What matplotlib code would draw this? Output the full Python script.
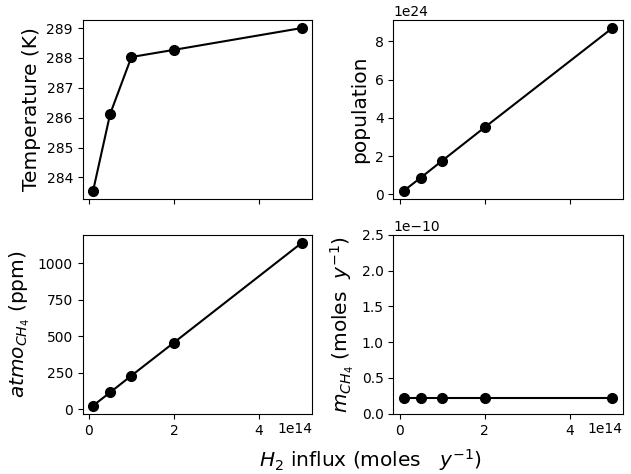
import matplotlib
matplotlib.use("Agg")
import matplotlib.pyplot as plt

h2_influx = [0.1e14, 0.5e14, 1.0e14, 2.0e14, 5.0e14]
temperature = [283.55, 286.12, 288.03, 288.27, 289.0]
population = [0.18e24, 0.87e24, 1.75e24, 3.5e24, 8.7e24]
atmo_ch4 = [23, 114, 229, 456, 1140]
m_ch4 = [0.22e-10, 0.22e-10, 0.22e-10, 0.22e-10, 0.22e-10]

fig, axes = plt.subplots(2, 2, figsize=(6.31, 4.74), dpi=100, sharex=True)
fig.subplots_adjust(left=0.131, right=0.987, top=0.958, bottom=0.127,
                    wspace=0.354, hspace=0.2)

style = dict(color="black", marker="o", markersize=7, linewidth=1.5)
label_fs = 14.5

ax = axes[0, 0]
ax.plot(h2_influx, temperature, **style)
ax.set_ylabel("Temperature (K)", fontsize=label_fs)

ax = axes[0, 1]
ax.plot(h2_influx, population, **style)
ax.set_ylabel("population", fontsize=label_fs)

ax = axes[1, 0]
ax.plot(h2_influx, atmo_ch4, **style)
ax.set_ylabel(r"$atmo_{CH_4}$ (ppm)", fontsize=label_fs)

ax = axes[1, 1]
ax.plot(h2_influx, m_ch4, **style)
ax.set_ylim(0, 2.5e-10)
ax.set_ylabel(r"$m_{CH_4}$ (moles  $y^{-1}$)", fontsize=label_fs)

for a in axes.flat:
    a.tick_params(labelsize=10)

# x offset text placed level with the tick labels, at the right edge
for a in axes[1, :]:
    a.xaxis.get_offset_text().set_visible(False)
    a.annotate("1e14", xy=(1.0, 0.0), xycoords="axes fraction",
               xytext=(0, -6), textcoords="offset points",
               ha="right", va="top", fontsize=10)

fig.text(0.587, 0.03, r"$H_2$ influx (moles   $y^{-1}$)", fontsize=label_fs,
         ha="center", va="center")

fig.savefig("out.png", dpi=100)
